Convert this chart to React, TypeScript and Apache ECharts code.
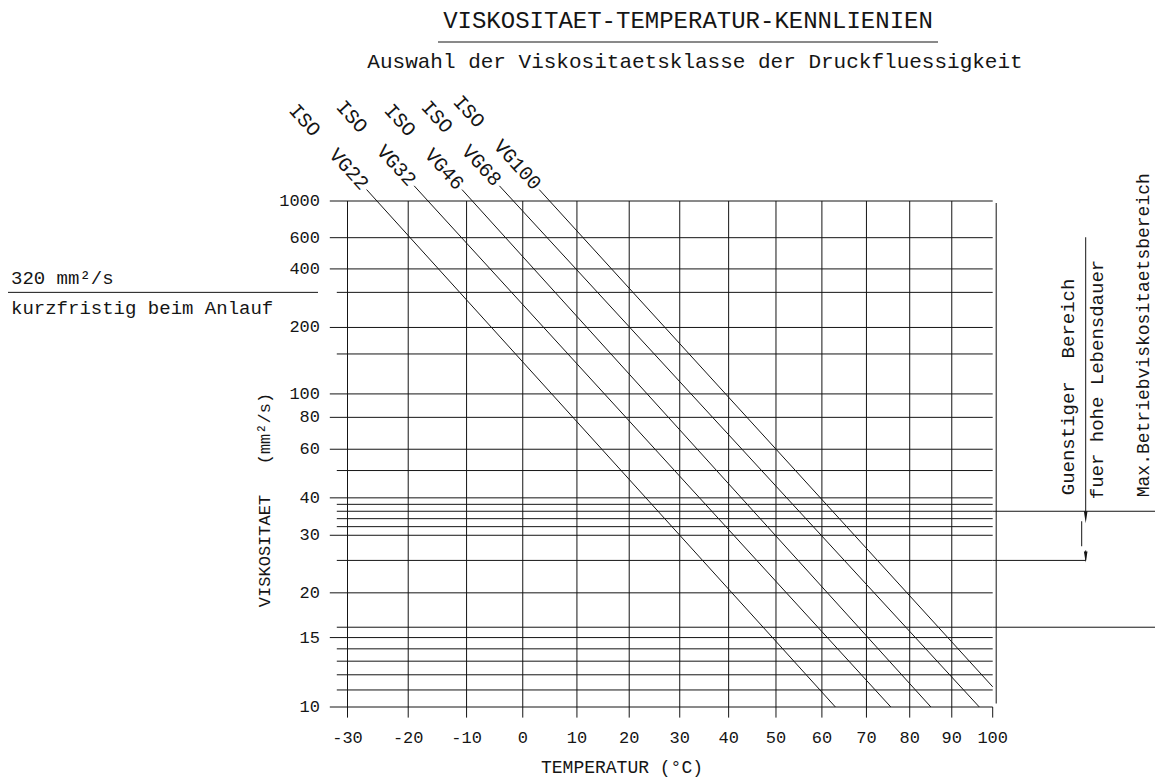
import React, { useEffect, useRef } from "react";
import * as echarts from "echarts";

// ---------- data ----------
const temperatureTicks = [-30, -20, -10, 0, 10, 20, 30, 40, 50, 60, 70, 80, 90, 100];
const viscosityTicks = [10, 15, 20, 30, 40, 60, 80, 100, 200, 400, 600, 1000];
const viscosityMinorLines = [11, 12, 13, 14, 16, 25, 32, 34, 36, 38, 50, 150, 300];
const vgNames = ["ISO  VG22", "ISO  VG32", "ISO  VG46", "ISO  VG68", "ISO  VG100"];
const vgStartTemperature = [-26.9, -19.0, -10.8, -4.2, 3.0];
const vgStartViscosity = [1182, 1250, 1182, 1250, 1182];
const vgEndTemperature = [63.0, 75.6, 85.0, 96.7, 100];
const vgEndViscosity = [10, 10, 10, 10, 11.2];
const startupViscosity = [300];
const favourableRange = [25, 36];
const maxOperatingRange = [16, 36];

const T_MIN = -30;
const T_MAX = 100;
const V_MIN = 10;
const V_MAX = 1000;

// temperature axis: log of absolute temperature, viscosity axis: Walther (log log)
const tx = (t: number) => Math.log10(t + 273.15);
const wy = (v: number) => Math.log10(Math.log10(v + 1));
const X_MIN = tx(T_MIN);
const X_MAX = tx(T_MAX);
const Y_MIN = wy(V_MIN);
const Y_MAX = wy(V_MAX);

const FONT = '"Liberation Mono", "DejaVu Sans Mono", monospace';
const INK = "#151515";

function txt(text: string, x: number, y: number, size: number, align = "left", vAlign = "middle", rotation = 0) {
  return {
    type: "text",
    x,
    y,
    rotation,
    silent: true,
    style: {
      text,
      fill: INK,
      fontSize: size,
      fontFamily: FONT,
      align,
      verticalAlign: vAlign,
      textAlign: align,
      textVerticalAlign: vAlign,
    },
  };
}

function seg(x1: number, y1: number, x2: number, y2: number) {
  return {
    type: "line",
    silent: true,
    shape: { x1, y1, x2, y2 },
    style: { stroke: INK, lineWidth: 1 },
  };
}

export default function App() {
  const ref = useRef<HTMLDivElement>(null);

  useEffect(() => {
    document.body.style.margin = "0";
    if (!ref.current) return;
    const chart = echarts.init(ref.current, undefined, { renderer: "svg" });

    const hData = [
      ...viscosityTicks.map((v) => [X_MIN, wy(v), v, 1]),
      ...viscosityMinorLines.map((v) => [X_MIN, wy(v), v, 0]),
    ];
    const vData = temperatureTicks.map((t) => [tx(t), Y_MAX, t]);
    const vgData = vgNames.map((_, i) => [
      tx(vgStartTemperature[i]),
      wy(vgStartViscosity[i]),
      tx(vgEndTemperature[i]),
      wy(vgEndViscosity[i]),
      i,
    ]);

    const vgLines = vgNames.map((name, i) => ({
      type: "line",
      name,
      data: [
        [tx(vgStartTemperature[i]), wy(vgStartViscosity[i])],
        [tx(vgEndTemperature[i]), wy(vgEndViscosity[i])],
      ],
      clip: false,
      symbol: "none",
      silent: true,
      lineStyle: { color: INK, width: 1 },
      z: 3,
    }));

    const option: any = {
      animation: false,
      backgroundColor: "#ffffff",
      grid: { left: 347.5, right: 162.3, top: 201, bottom: 74 },
      xAxis: { type: "value", min: X_MIN, max: X_MAX, show: false },
      yAxis: { type: "value", min: Y_MIN, max: Y_MAX, show: false },
      graphic: [
        txt("VISKOSITAET-TEMPERATUR-KENNLIENIEN", 688, 21, 24, "center"),
        seg(438, 42, 938, 42),
        txt("Auswahl der Viskositaetsklasse der Druckfluessigkeit", 695, 62, 21, "center"),
        txt("TEMPERATUR (°C)", 622, 768, 18, "center"),
        txt("VISKOSITAET   (mm²/s)", 265, 500, 17, "center", "middle", Math.PI / 2),
      ],
      series: [
        {
          type: "custom",
          name: "hGrid",
          coordinateSystem: "cartesian2d",
          data: hData,
          encode: { x: 0, y: 1 },
          clip: false,
          silent: true,
          z: 2,
          renderItem: (params: any, api: any) => {
            const y = api.value(1);
            const v = api.value(2);
            const lab = api.value(3);
            const pL = api.coord([X_MIN, y]);
            const pR = api.coord([X_MAX, y]);
            const children: any[] = [seg(pL[0] - (lab ? 17.7 : 10.7), pL[1], pR[0], pR[1])];
            if (lab) children.push(txt(String(v), pL[0] - 27.5, pL[1] + 0.5, 17, "right"));
            return { type: "group", children };
          },
        },
        {
          type: "custom",
          name: "vGrid",
          coordinateSystem: "cartesian2d",
          data: vData,
          encode: { x: 0, y: 1 },
          clip: false,
          silent: true,
          z: 2,
          renderItem: (params: any, api: any) => {
            const x = api.value(0);
            const t = api.value(2);
            const pT = api.coord([x, Y_MAX]);
            const pB = api.coord([x, Y_MIN]);
            const children: any[] = [];
            if (t === T_MAX) {
              children.push(seg(pB[0], pB[1], pB[0], pB[1] + 10.6));
              children.push(seg(pT[0] + 3.5, pT[1] + 2, pT[0] + 3.5, pB[1] - 3.5));
            } else {
              children.push(seg(pT[0], pT[1], pB[0], pB[1] + 10.6));
            }
            children.push(txt(String(t), pB[0], pB[1] + 31.5, 17, "center"));
            return { type: "group", children };
          },
        },
        ...vgLines,
        {
          type: "custom",
          name: "vgLabels",
          coordinateSystem: "cartesian2d",
          data: vgData,
          encode: { x: 0, y: 1 },
          clip: false,
          silent: true,
          z: 3,
          renderItem: (params: any, api: any) => {
            const p1 = api.coord([api.value(0), api.value(1)]);
            const p2 = api.coord([api.value(2), api.value(3)]);
            const i = api.value(4);
            const ang = Math.atan2(p2[1] - p1[1], p2[0] - p1[0]);
            const gap = 3;
            return txt(
              vgNames[i],
              p1[0] - gap * Math.cos(ang),
              p1[1] - gap * Math.sin(ang),
              20,
              "right",
              "middle",
              -ang
            );
          },
        },
        {
          type: "custom",
          name: "annotations",
          coordinateSystem: "cartesian2d",
          data: [[X_MAX, wy(maxOperatingRange[1])]],
          encode: { x: 0, y: 1 },
          clip: false,
          silent: true,
          z: 3,
          renderItem: (params: any, api: any) => {
            const W = api.getWidth();
            const pTop = api.coord([X_MAX, wy(favourableRange[1])]);
            const pFav = api.coord([X_MAX, wy(favourableRange[0])]);
            const pMax = api.coord([X_MAX, wy(maxOperatingRange[0])]);
            const pStart = api.coord([X_MIN, wy(startupViscosity[0])]);
            const xR = pTop[0];
            const yTop = pTop[1];
            const yFav = pFav[1];
            const xA = xR + 93;
            const children: any[] = [
              // right side range markers
              seg(xR, yTop, W, yTop),
              seg(xR, pMax[1], W, pMax[1]),
              seg(xR, yFav, xA, yFav),
              seg(xA, yTop - 274, xA, yTop),
              {
                type: "polygon",
                silent: true,
                shape: { points: [[xA - 1.8, yTop], [xA + 1.8, yTop], [xA, yTop + 12]] },
                style: { fill: INK },
              },
              seg(xA - 4, yTop + 10, xA - 4, yTop + 35),
              seg(xA, yFav - 10, xA, yFav),
              {
                type: "polygon",
                silent: true,
                shape: { points: [[xA - 1.8, yFav - 9], [xA + 1.8, yFav - 9], [xA, yFav + 2]] },
                style: { fill: INK },
              },
              txt("Guenstiger  Bereich", xR + 76.3, yTop - 16, 19, "left", "middle", Math.PI / 2),
              txt("fuer hohe Lebensdauer", xR + 105.3, yTop - 12, 19, "left", "middle", Math.PI / 2),
              txt("Max.Betriebviskositaetsbereich", xR + 151.5, yTop - 14, 18, "left", "middle", Math.PI / 2),
              // left start-up annotation
              seg(8, pStart[1], pStart[0] - 29.5, pStart[1]),
              txt("320 mm²/s", 11, pStart[1] - 13, 19, "left"),
              txt("kurzfristig beim Anlauf", 11, pStart[1] + 17, 19, "left"),
            ];
            return { type: "group", children };
          },
        },
      ],
    };

    chart.setOption(option);
    return () => chart.dispose();
  }, []);

  return <div ref={ref} style={{ width: 1155, height: 781 }} />;
}
